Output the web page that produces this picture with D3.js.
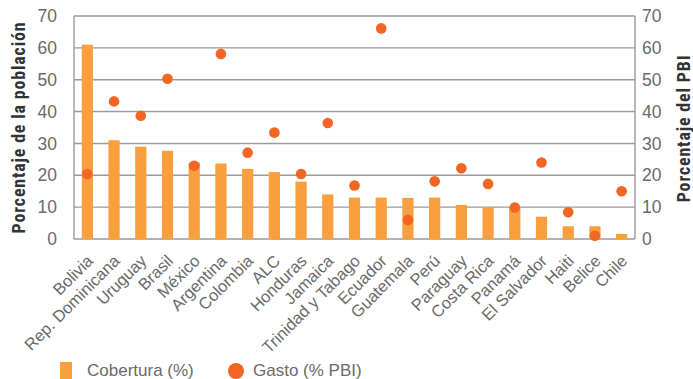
<!DOCTYPE html>
<html>
<head>
<meta charset="utf-8">
<script src="https://cdn.jsdelivr.net/npm/d3@7"></script>
<style>
  html, body { margin: 0; padding: 0; background: #fff; }
  svg { display: block; }
  .tick text, .legend text { font-family: "Liberation Sans", Arial, sans-serif; fill: #6a6a6a; }
  .title { font-family: "Liberation Sans Narrow", "Roboto Condensed", "DejaVu Sans Condensed", sans-serif; font-weight: bold; fill: #333; }
</style>
</head>
<body>
<svg id="chart" width="693" height="379"></svg>
<script>
// Countries, ordered by coverage
const categories = ["Bolivia", "Rep. Dominicana", "Uruguay", "Brasil", "México", "Argentina",
  "Colombia", "ALC", "Honduras", "Jamaica", "Trinidad y Tabago", "Ecuador", "Guatemala",
  "Perú", "Paraguay", "Costa Rica", "Panamá", "El Salvador", "Haiti", "Belice", "Chile"];
// Coverage, % of population (bars, left axis)
const cobertura = [61, 31, 29, 27.7, 24, 23.7, 22, 21, 18, 14, 13, 13, 12.9, 13, 10.7, 9.8, 10, 7, 4, 4, 1.6];
// Spending, % of GDP (dots, right axis)
const gasto = [20.4, 43.2, 38.7, 50.3, 23, 58.1, 27.1, 33.4, 20.4, 36.4, 16.8, 66.1, 6, 18.1, 22.2, 17.3, 9.9, 24, 8.4, 1, 15];
const yTicks = [0, 10, 20, 30, 40, 50, 60, 70];

const svg = d3.select("#chart");
const margin = { left: 74, right: 58, top: 16, bottom: 140 };
const W = 693, H = 379;
const innerW = W - margin.left - margin.right;
const innerH = H - margin.top - margin.bottom;

const x = d3.scaleBand().domain(categories).range([0, innerW]).paddingInner(0.58).paddingOuter(0.29);
const yL = d3.scaleLinear().domain([0, 70]).range([innerH, 0]);
const yR = d3.scaleLinear().domain([0, 70]).range([innerH, 0]);

const g = svg.append("g").attr("transform", `translate(${margin.left},${margin.top})`);

// horizontal grid
g.append("g").selectAll("line").data(yTicks).join("line")
  .attr("x1", 0).attr("x2", innerW)
  .attr("y1", d => yL(d)).attr("y2", d => yL(d))
  .attr("stroke", "#9a9a9a").attr("stroke-width", 1.4);

// frame sides
g.append("line").attr("x1", 0).attr("x2", 0).attr("y1", 0).attr("y2", innerH)
  .attr("stroke", "#9a9a9a").attr("stroke-width", 1.4);
g.append("line").attr("x1", innerW).attr("x2", innerW).attr("y1", 0).attr("y2", innerH)
  .attr("stroke", "#9a9a9a").attr("stroke-width", 1.4);

// bars
g.append("g").selectAll("rect").data(categories).join("rect")
  .attr("x", d => x(d))
  .attr("width", x.bandwidth())
  .attr("y", (d, i) => yL(cobertura[i]))
  .attr("height", (d, i) => innerH - yL(cobertura[i]))
  .attr("fill", "#F99F3E");

// dots
g.append("g").selectAll("circle").data(categories).join("circle")
  .attr("cx", d => x(d) + x.bandwidth() / 2)
  .attr("cy", (d, i) => yR(gasto[i]))
  .attr("r", 5.3)
  .attr("fill", "#F26522");

// left axis
const axL = g.append("g").call(d3.axisLeft(yL).tickValues(yTicks).tickSize(0).tickPadding(17));
axL.select(".domain").remove();
axL.selectAll("text").attr("font-size", 17.5);

// right axis
const axR = g.append("g").attr("transform", `translate(${innerW},0)`)
  .call(d3.axisRight(yR).tickValues(yTicks).tickSize(0).tickPadding(7));
axR.select(".domain").remove();
axR.selectAll("text").attr("font-size", 17.5);

// category axis, labels slanted at 45 degrees
const axX = g.append("g").attr("transform", `translate(0,${innerH})`)
  .call(d3.axisBottom(x).tickSize(0));
axX.select(".domain").remove();
axX.selectAll("text")
  .attr("font-size", 16.5)
  .attr("text-anchor", "end")
  .attr("x", -11.5)
  .attr("y", 21)
  .attr("dy", 0)
  .attr("transform", "rotate(-45)");

// axis titles
svg.append("text").attr("class", "title")
  .attr("transform", `translate(25,${margin.top + innerH / 2}) rotate(-90)`)
  .attr("text-anchor", "middle").attr("font-size", 18).attr("letter-spacing", 0.8)
  .text("Porcentaje de la población");
svg.append("text").attr("class", "title")
  .attr("transform", `translate(690,${margin.top + innerH / 2 + 1}) rotate(-90)`)
  .attr("text-anchor", "middle").attr("font-size", 18).attr("letter-spacing", 0.8)
  .text("Porcentaje del PBI");

// legend
const leg = svg.append("g").attr("class", "legend").attr("transform", "translate(60,362)");
leg.append("rect").attr("x", 0).attr("y", 0).attr("width", 12).attr("height", 17).attr("fill", "#F99F3E");
leg.append("text").attr("x", 27).attr("y", 13.5).attr("font-size", 17).text("Cobertura (%)");
leg.append("circle").attr("cx", 176).attr("cy", 9).attr("r", 8).attr("fill", "#F26522");
leg.append("text").attr("x", 193).attr("y", 13.5).attr("font-size", 17).text("Gasto (% PBI)");
</script>
</body>
</html>
